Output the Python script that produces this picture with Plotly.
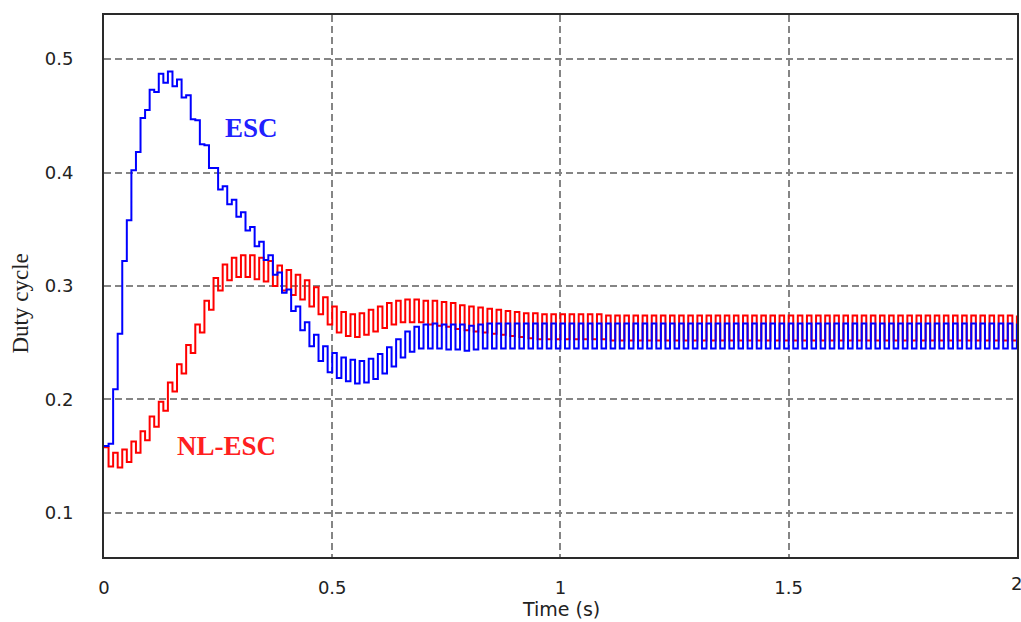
import plotly.graph_objects as go

# Sample instants (s), one step value every 10 ms
time_s = [round(0.01 * k, 2) for k in range(201)]

# ESC duty cycle (step values)
esc_duty = [
    0.159, 0.161, 0.209, 0.258, 0.322, 0.358, 0.402, 0.418, 0.448, 0.455,
    0.473, 0.471, 0.487, 0.479, 0.489, 0.476, 0.482, 0.466, 0.468, 0.447,
    0.446, 0.425, 0.424, 0.404, 0.404, 0.385, 0.388, 0.372, 0.376, 0.361,
    0.365, 0.349, 0.352, 0.335, 0.339, 0.323, 0.327, 0.310, 0.312, 0.294,
    0.297, 0.278, 0.282, 0.261, 0.268, 0.247, 0.257, 0.234, 0.247, 0.224,
    0.241, 0.219, 0.237, 0.216, 0.235, 0.214, 0.234, 0.215, 0.236, 0.218,
    0.240, 0.223, 0.246, 0.229, 0.253, 0.237, 0.260, 0.242, 0.264, 0.245,
    0.266, 0.245, 0.267, 0.245, 0.266, 0.244, 0.266, 0.244, 0.266, 0.243,
    0.265, 0.244, 0.266, 0.245, 0.267, 0.245, 0.267, 0.245, 0.267, 0.245,
    0.267, 0.245, 0.267, 0.245, 0.267, 0.245, 0.267, 0.245, 0.267, 0.245,
    0.267, 0.245, 0.267, 0.245, 0.267, 0.245, 0.267, 0.245, 0.267, 0.245,
    0.267, 0.245, 0.267, 0.245, 0.267, 0.245, 0.267, 0.245, 0.267, 0.245,
    0.267, 0.245, 0.267, 0.245, 0.267, 0.245, 0.267, 0.245, 0.267, 0.245,
    0.267, 0.245, 0.267, 0.245, 0.267, 0.245, 0.267, 0.245, 0.267, 0.245,
    0.267, 0.245, 0.267, 0.245, 0.267, 0.245, 0.267, 0.245, 0.267, 0.245,
    0.267, 0.245, 0.267, 0.245, 0.267, 0.245, 0.267, 0.245, 0.267, 0.245,
    0.267, 0.245, 0.267, 0.245, 0.267, 0.245, 0.267, 0.245, 0.267, 0.245,
    0.267, 0.245, 0.267, 0.245, 0.267, 0.245, 0.267, 0.245, 0.267, 0.245,
    0.267, 0.245, 0.267, 0.245, 0.267, 0.245, 0.267, 0.245, 0.267, 0.245,
    0.267, 0.245, 0.267, 0.245, 0.267, 0.245, 0.267, 0.245, 0.267, 0.245,
    0.267,
]

# NL-ESC duty cycle (step values)
nlesc_duty = [
    0.158, 0.141, 0.153, 0.140, 0.156, 0.145, 0.163, 0.153, 0.172, 0.164,
    0.185, 0.176, 0.198, 0.190, 0.215, 0.207, 0.231, 0.223, 0.248, 0.241,
    0.266, 0.259, 0.287, 0.279, 0.307, 0.296, 0.319, 0.305, 0.325, 0.308,
    0.327, 0.308, 0.327, 0.306, 0.325, 0.304, 0.322, 0.300, 0.318, 0.296,
    0.314, 0.292, 0.310, 0.288, 0.305, 0.282, 0.299, 0.275, 0.290, 0.266,
    0.282, 0.259, 0.277, 0.256, 0.275, 0.255, 0.276, 0.257, 0.279, 0.260,
    0.282, 0.263, 0.285, 0.266, 0.287, 0.268, 0.288, 0.268, 0.288, 0.268,
    0.287, 0.266, 0.287, 0.265, 0.286, 0.264, 0.285, 0.262, 0.283, 0.261,
    0.282, 0.260, 0.281, 0.259, 0.280, 0.258, 0.279, 0.257, 0.278, 0.256,
    0.277, 0.255, 0.276, 0.254, 0.276, 0.253, 0.275, 0.253, 0.275, 0.253,
    0.275, 0.253, 0.275, 0.253, 0.275, 0.253, 0.275, 0.253, 0.275, 0.253,
    0.274, 0.252, 0.274, 0.252, 0.274, 0.252, 0.274, 0.252, 0.274, 0.252,
    0.274, 0.252, 0.274, 0.252, 0.274, 0.252, 0.274, 0.252, 0.274, 0.252,
    0.274, 0.252, 0.274, 0.252, 0.274, 0.252, 0.274, 0.252, 0.274, 0.252,
    0.274, 0.252, 0.274, 0.252, 0.274, 0.252, 0.274, 0.252, 0.274, 0.252,
    0.274, 0.252, 0.274, 0.252, 0.274, 0.252, 0.274, 0.252, 0.274, 0.252,
    0.274, 0.252, 0.274, 0.252, 0.274, 0.252, 0.274, 0.252, 0.274, 0.252,
    0.274, 0.252, 0.274, 0.252, 0.274, 0.252, 0.274, 0.252, 0.274, 0.252,
    0.274, 0.252, 0.274, 0.252, 0.274, 0.252, 0.274, 0.252, 0.274, 0.252,
    0.274, 0.252, 0.274, 0.252, 0.274, 0.252, 0.274, 0.252, 0.274, 0.252,
    0.274,
]

x_ticks = [0, 0.5, 1, 1.5, 2]
x_tick_labels = ["0", "0.5", "1", "1.5", "2"]
y_ticks = [0.1, 0.2, 0.3, 0.4, 0.5]
y_tick_labels = ["0.1", "0.2", "0.3", "0.4", "0.5"]

fig = go.Figure()
fig.add_trace(go.Scatter(x=time_s, y=nlesc_duty, mode="lines", name="NL-ESC",
                         line=dict(color="#ff0000", width=2, shape="hv")))
fig.add_trace(go.Scatter(x=time_s, y=esc_duty, mode="lines", name="ESC",
                         line=dict(color="#0000ff", width=2, shape="hv")))

tick_font = dict(family="DejaVu Sans", size=18, color="#222222")
axis_common = dict(
    showgrid=True, gridcolor="#858585", gridwidth=1.5, griddash="7px,4px",
    showline=True, linecolor="#2a2a2a", linewidth=2, mirror=True,
    zeroline=False, ticks="", tickfont=tick_font,
)

# The last x tick label sits on the page edge; plotly drops it, so draw it as text
edge_labels = [
    dict(text=x_tick_labels[i], xref="x", yref="paper", x=x_ticks[i], y=-0.0486,
         xanchor="center", yanchor="middle", showarrow=False, font=tick_font)
    for i in range(len(x_ticks)) if x_ticks[i] == max(x_ticks)
]

fig.update_layout(
    width=1021, height=622,
    margin=dict(l=104, r=2, t=15, b=65),
    paper_bgcolor="white", plot_bgcolor="white",
    showlegend=False,
    xaxis=dict(range=[0, 2.0002], tickvals=x_ticks[:-1], ticktext=x_tick_labels[:-1],
               ticklabelstandoff=13, **axis_common),
    yaxis=dict(range=[0.0612, 0.5388], tickvals=y_ticks, ticktext=y_tick_labels,
               ticklabelstandoff=25, **axis_common),
    annotations=edge_labels + [
        dict(text="Time (s)", xref="paper", yref="paper", x=0.501, y=-0.0966,
             xanchor="center", yanchor="middle", showarrow=False,
             font=dict(family="DejaVu Sans", size=19, color="#222222")),
        dict(text="Duty cycle", xref="paper", yref="paper", x=-0.0918, y=0.468,
             xanchor="center", yanchor="middle", showarrow=False, textangle=-90,
             font=dict(family="Liberation Serif", size=23, color="#222222")),
        dict(text="<b>ESC</b>", xref="x", yref="y", x=0.323, y=0.439,
             xanchor="center", yanchor="middle", showarrow=False,
             font=dict(family="Liberation Serif", size=27, color="#2020ff")),
        dict(text="<b>NL-ESC</b>", xref="x", yref="y", x=0.269, y=0.159,
             xanchor="center", yanchor="middle", showarrow=False,
             font=dict(family="Liberation Serif", size=27, color="#ff2020")),
    ],
)

fig.write_html("out.html")
